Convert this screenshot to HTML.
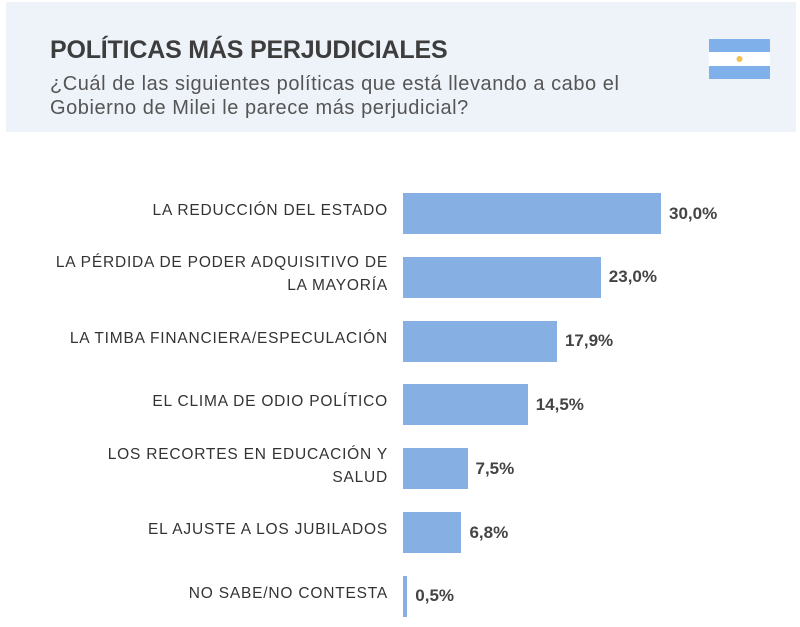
<!DOCTYPE html>
<html><head><meta charset="utf-8"><style>
body{margin:0;width:800px;height:627px;background:#fff;font-family:"Liberation Sans",sans-serif;overflow:hidden;position:relative}
.hdr{position:absolute;left:6px;top:2px;width:790px;height:130px;background:#eef3fa}
.t{position:absolute;left:50px;top:36px;font-size:25px;font-weight:bold;color:#3d3d3d;letter-spacing:-0.2px}
.s{position:absolute;left:50px;top:72px;font-size:20px;color:#555;line-height:24px;white-space:nowrap;letter-spacing:0.55px}
.lab{position:absolute;right:412px;text-align:right;font-size:15.5px;color:#333;letter-spacing:0.8px;line-height:23px;white-space:nowrap}
.bar{position:absolute;background:#86b0e4;height:41px}
.val{position:absolute;font-size:17px;font-weight:bold;color:#444}
</style></head><body>
<div class="hdr"></div>
<div class="t">POLÍTICAS MÁS PERJUDICIALES</div>
<div class="s">¿Cuál de las siguientes políticas que está llevando a cabo el<br>Gobierno de Milei le parece más perjudicial?</div>
<svg style="position:absolute;left:709px;top:39px" width="61" height="40"><rect width="61" height="13" fill="#7fb0ea"/><rect y="13" width="61" height="14" fill="#fff"/><rect y="27" width="61" height="13" fill="#7fb0ea"/><circle cx="30.5" cy="20" r="3" fill="#f2c14e"/></svg>
<div id="chart"></div>
<script>
const categories=["LA REDUCCIÓN DEL ESTADO","LA PÉRDIDA DE PODER ADQUISITIVO DE<br>LA MAYORÍA","LA TIMBA FINANCIERA/ESPECULACIÓN","EL CLIMA DE ODIO POLÍTICO","LOS RECORTES EN EDUCACIÓN Y<br>SALUD","EL AJUSTE A LOS JUBILADOS","NO SABE/NO CONTESTA"];
const values=[30.0,23.0,17.9,14.5,7.5,6.8,0.5];
const valueLabels=["30,0%","23,0%","17,9%","14,5%","7,5%","6,8%","0,5%"];
const x0=403,scale=8.6,y0=193,step=63.8,bh=41;
const xs=v=>v*scale, ys=i=>y0+i*step;
const c=document.getElementById('chart');
values.forEach((v,i)=>{
 const y=ys(i);
 const l=document.createElement('div');l.className='lab';l.innerHTML=categories[i];
 
 
 const lines=categories[i].split('<br>').length;
 l.style.top=(y+bh/2-lines*23/2-3)+'px';c.appendChild(l);
 const b=document.createElement('div');b.className='bar';
 
 
 b.style.left=x0+'px';b.style.top=y+'px';b.style.width=Math.max(xs(v),3)+'px';c.appendChild(b);
 const t=document.createElement('div');t.className='val';t.textContent=valueLabels[i];
 
 
 t.style.left=(x0+Math.max(xs(v),3)+8)+'px';t.style.top=(y+bh/2-10)+'px';c.appendChild(t);
});
</script>
</body></html>
